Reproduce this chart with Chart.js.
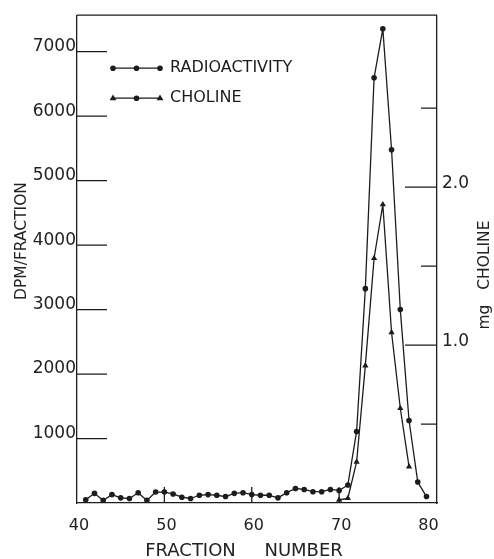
<!DOCTYPE html>
<html><head><meta charset="utf-8">
<script src="https://cdn.jsdelivr.net/npm/chart.js@4/dist/chart.umd.min.js"></script>
<style>html,body{margin:0;padding:0;background:#fff}#wrap{width:494px;height:559px}</style>
</head><body><div id="wrap"><canvas id="c" width="494" height="559"></canvas></div>
<script>
// ---- data ----
const fractions = [41,42,43,44,45,46,47,48,49,50,51,52,53,54,55,56,57,58,59,60,
                   61,62,63,64,65,66,67,68,69,70,71,72,73,74,75,76,77,78,79,80];
const radioactivity = [50,150,40,130,80,70,160,40,170,170,140,90,70,120,130,120,100,150,160,130,
                       120,120,80,160,225,210,175,175,210,195,280,1110,3325,6595,7355,5480,3000,1280,325,100];
const cholineFractions = [70,71,72,73,74,75,76,77,78];
const cholineMg = [0.02,0.03,0.26,0.87,1.55,1.89,1.08,0.60,0.23];
const fractionTicks = [40,50,60,70,80];
const fractionInnerTicks = [50,60,70];
const dpmTicks = [1000,2000,3000,4000,5000,6000,7000];
const mgLabelTicks = [1.0,2.0];
const mgMinorTicks = [0.5,1.5,2.5];
const xTitle = 'FRACTION     NUMBER';
const yTitle = 'DPM/FRACTION';
const y1Title = 'mg   CHOLINE';

const ink = '#1c1c1c';
const FONT = '"DejaVu Sans", sans-serif';

function drawMarker(ctx, style, x, y) {
  ctx.beginPath();
  if (style === 'triangle') {
    const r = 3.6;
    ctx.moveTo(x, y - r);
    ctx.lineTo(x + r * 0.95, y + r * 0.6);
    ctx.lineTo(x - r * 0.95, y + r * 0.6);
    ctx.closePath();
  } else {
    ctx.arc(x, y, 2.8, 0, Math.PI * 2);
  }
  ctx.fill();
}

const decor = {
  id: 'decor',
  afterDraw(chart) {
    const {ctx, chartArea: a, scales} = chart;
    const xs = scales.x, ys = scales.y, y1s = scales.y1;
    ctx.save();
    ctx.strokeStyle = ink; ctx.fillStyle = ink; ctx.lineWidth = 1.3;
    ctx.beginPath();
    ctx.moveTo(a.left, a.top); ctx.lineTo(a.right, a.top);
    dpmTicks.forEach(v => { const p = ys.getPixelForValue(v); ctx.moveTo(a.left, p); ctx.lineTo(a.left + 30, p); });
    mgLabelTicks.forEach(v => { const p = y1s.getPixelForValue(v); ctx.moveTo(a.right - 32, p); ctx.lineTo(a.right, p); });
    mgMinorTicks.forEach(v => { const p = y1s.getPixelForValue(v); ctx.moveTo(a.right - 16, p); ctx.lineTo(a.right, p); });
    fractionInnerTicks.forEach(v => { const p = xs.getPixelForValue(v); ctx.moveTo(p, a.bottom); ctx.lineTo(p, a.bottom - 16); });
    ctx.stroke();

    // legend
    const ds = chart.data.datasets;
    const rows = [{y: a.top + 53, ds: ds[0], m: ['circle','circle','circle']},
                  {y: a.top + 83, ds: ds[1], m: ['triangle','circle','triangle']}];
    const lx0 = a.left + 36, lx1 = a.left + 83;
    rows.forEach(r => {
      ctx.beginPath(); ctx.lineWidth = 1.3;
      ctx.moveTo(lx0, r.y); ctx.lineTo(lx1, r.y); ctx.stroke();
      [lx0, (lx0 + lx1) / 2, lx1].forEach((px, i) => drawMarker(ctx, r.m[i], px, r.y));
      ctx.font = '16px ' + FONT; ctx.textAlign = 'left'; ctx.textBaseline = 'middle';
      ctx.fillText(r.ds.label, a.left + 93, r.y);
    });

    // axis titles
    ctx.fillStyle = '#222';
    ctx.font = '18px ' + FONT; ctx.textAlign = 'center'; ctx.textBaseline = 'middle';
    ctx.fillText(xTitle, 244, 551);
    ctx.font = '15.5px ' + FONT;
    ctx.save(); ctx.translate(22, 241); ctx.rotate(-Math.PI / 2); ctx.fillText(yTitle, 0, 0); ctx.restore();
    ctx.font = '15.5px ' + FONT;
    ctx.save(); ctx.translate(485, 275); ctx.rotate(-Math.PI / 2); ctx.fillText(y1Title, 0, 0); ctx.restore();
    ctx.restore();
  }
};

new Chart(document.getElementById('c'), {
  type: 'line',
  data: {
    datasets: [
      {
        label: 'RADIOACTIVITY',
        data: fractions.map((f, i) => ({x: f, y: radioactivity[i]})),
        yAxisID: 'y',
        borderColor: ink, backgroundColor: ink, borderWidth: 1.3,
        pointStyle: 'circle', pointRadius: 2.8, pointBorderWidth: 0, tension: 0
      },
      {
        label: 'CHOLINE',
        data: cholineFractions.map((f, i) => ({x: f, y: cholineMg[i]})),
        yAxisID: 'y1',
        borderColor: ink, backgroundColor: ink, borderWidth: 1.3,
        pointStyle: 'triangle', pointRadius: 3.6, pointBorderWidth: 0, tension: 0
      }
    ]
  },
  options: {
    responsive: false, animation: false, devicePixelRatio: 1,
    layout: {padding: {top: 15, left: 0, right: 0, bottom: 0}},
    plugins: {legend: {display: false}, tooltip: {enabled: false}},
    elements: {line: {borderJoinStyle: 'round'}},
    scales: {
      x: {
        type: 'linear', min: 40, max: 81.2,
        grid: {display: false, drawTicks: false},
        border: {display: true, color: ink, width: 1.3},
        afterBuildTicks: s => { s.ticks = fractionTicks.map(v => ({value: v})); },
        afterFit: s => { s.height = 56; },
        ticks: {color: '#222', font: {family: FONT, size: 16}, padding: 13, labelOffset: 2, maxRotation: 0, autoSkip: false,
                callback: v => String(v)}
      },
      y: {
        position: 'left', min: 0, max: 7566,
        grid: {display: false, drawTicks: false},
        border: {display: true, color: ink, width: 1.3},
        afterBuildTicks: s => { s.ticks = dpmTicks.map(v => ({value: v})); },
        afterFit: s => { s.width = 77; },
        ticks: {color: '#222', font: {family: FONT, size: 17}, padding: 1, labelOffset: -5, autoSkip: false,
                callback: v => String(v)}
      },
      y1: {
        position: 'right', min: 0, max: 3.089,
        grid: {display: false, drawTicks: false},
        border: {display: true, color: ink, width: 1.3},
        afterBuildTicks: s => { s.ticks = mgLabelTicks.map(v => ({value: v})); },
        afterFit: s => { s.width = 57; },
        ticks: {color: '#222', font: {family: FONT, size: 17}, padding: 5, labelOffset: -4, autoSkip: false,
                callback: v => Number(v).toFixed(1)}
      }
    }
  },
  plugins: [decor]
});
</script>
</body></html>
